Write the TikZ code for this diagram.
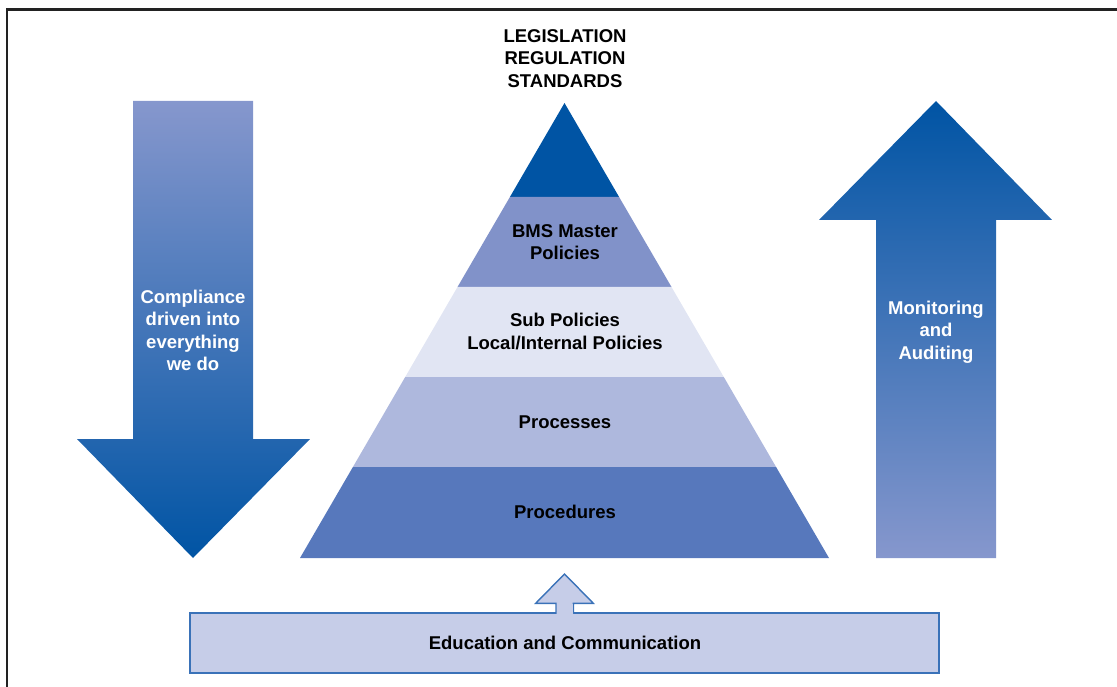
\documentclass[tikz,border=0pt]{standalone}
\usepackage{fontspec}
\setmainfont{Liberation Sans}
\definecolor{dkblue}{HTML}{0054A4}
\definecolor{ltarrow}{HTML}{8697CD}
\definecolor{layerA}{HTML}{8192C9}
\definecolor{layerB}{HTML}{E1E5F3}
\definecolor{layerC}{HTML}{AEB8DD}
\definecolor{layerD}{HTML}{5778BC}
\definecolor{edufill}{HTML}{C6CDE8}
\definecolor{eduline}{HTML}{3A72B8}
\definecolor{framec}{HTML}{222222}
\begin{document}
\begin{tikzpicture}[x=1pt,y=-1pt,
  lbl/.style={font=\fontsize{18.5}{22.5}\selectfont\bfseries, align=center, inner sep=0pt},
  wlbl/.style={lbl, text=white},
  edubox/.style={fill=edufill, draw=eduline, line width=1.4pt}]
\useasboundingbox (0,0) rectangle (1117,687);
% frame
\draw[framec, line width=2.4pt] (7.2,700) -- (7.2,9.5) -- (1130,9.5);
% left arrow (down)
\shade[top color=ltarrow, bottom color=dkblue]
  (133,101) -- (253,101) -- (253,439) -- (310,439) -- (193,558) -- (77,439) -- (133,439) -- cycle;
% right arrow (up)
\shade[top color=dkblue, bottom color=ltarrow]
  (936,101) -- (1052,220) -- (996,220) -- (996,558) -- (876,558) -- (876,220) -- (819,220) -- cycle;
% pyramid
\fill[dkblue] (564.5,103) -- (619.1,197) -- (509.9,197) -- cycle;
\fill[layerA] (509.9,197) -- (619.1,197) -- (671.5,287) -- (457.5,287) -- cycle;
\fill[layerB] (457.5,287) -- (671.5,287) -- (723.8,377) -- (405.2,377) -- cycle;
\fill[layerC] (405.2,377) -- (723.8,377) -- (776.1,467) -- (352.9,467) -- cycle;
\fill[layerD] (352.9,467) -- (776.1,467) -- (829,558) -- (300,558) -- cycle;
% education box and small arrow
\draw[edubox] (190,613) rectangle (939,673);
\draw[edubox, line join=miter] (556,613.7) -- (556,603.3) -- (535.7,603.3) -- (564.5,574) -- (593.3,603.3) -- (573.3,603.3) -- (573.3,613.7);
\fill[edufill] (556.7,604) rectangle (572.6,614.2);
% labels
\node[lbl] (top) at (565,58.5) {LEGISLATION\\REGULATION\\STANDARDS};
\node[wlbl] (comp) at (193,330.5) {Compliance\\driven into\\everything\\we do};
\node[wlbl] (mon) at (936,332) {Monitoring\\and\\Auditing};
\node[lbl] (bms) at (565,242) {BMS Master\\Policies};
\node[lbl] (sub) at (565,331.5) {Sub Policies\\Local/Internal Policies};
\node[lbl] (proc) at (565,422) {Processes};
\node[lbl] (pced) at (565,512) {Procedures};
\node[lbl] (edu) at (565,643) {Education and Communication};
\end{tikzpicture}
\end{document}
